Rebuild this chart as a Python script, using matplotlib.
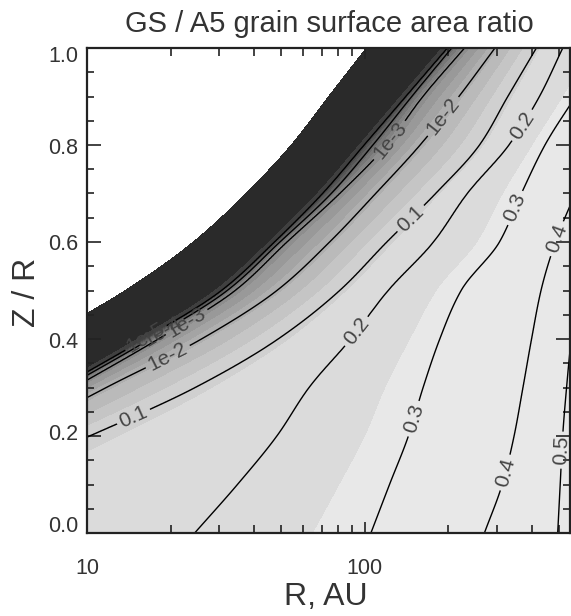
import numpy as np
import matplotlib
matplotlib.use("Agg")
import matplotlib.pyplot as plt
from matplotlib.ticker import FixedLocator, NullFormatter, FuncFormatter

plt.rcParams['font.family'] = ['Liberation Sans', 'DejaVu Sans']

# ---------------- data ----------------
# heights Z/R of the rows at which contour crossings were read
zr_rows = [0.0, 0.1, 0.2, 0.3, 0.4, 0.5, 0.6, 0.7, 0.8, 0.9, 1.0]
# log10(R/AU) where each contour crosses each row (values < 1 or > 2.74 lie outside the frame)
edge_logR = [-0.40, -0.07, 0.23, 0.53, 0.836, 1.138, 1.383, 1.573, 1.736, 1.871, 2.007]
c1e5_logR = [-0.006, 0.297, 0.60, 0.903, 1.207, 1.485, 1.676, 1.849, 1.999, 2.149, 2.299]
c1e4_logR = [0.014, 0.317, 0.62, 0.923, 1.227, 1.505, 1.695, 1.88, 2.03, 2.17, 2.314]
c1e3_logR = [0.044, 0.347, 0.65, 0.953, 1.256, 1.533, 1.72, 1.91, 2.08, 2.21, 2.36]
c1e2_logR = [0.136, 0.439, 0.742, 1.069, 1.412, 1.684, 1.874, 2.04, 2.20, 2.34, 2.47]
c01_logR = [0.18, 0.60, 1.008, 1.389, 1.688, 1.91, 2.08, 2.256, 2.414, 2.516, 2.619]
c02_logR = [1.388, 1.542, 1.684, 1.80, 1.95, 2.085, 2.248, 2.37, 2.52, 2.63, 2.714]
c03_logR = [2.023, 2.09, 2.158, 2.211, 2.271, 2.348, 2.486, 2.565, 2.65, 2.76, 2.87]
c04_logR = [2.432, 2.496, 2.539, 2.571, 2.602, 2.636, 2.688, 2.76, 2.84, 2.92, 3.0]
c05_logR = [2.696, 2.705, 2.714, 2.728, 2.745, 2.77, 2.80, 2.84, 2.88, 2.95, 3.1]

edge_value = 1e-8   # value assigned at the edge of the computed domain
line_values = [1e-5, 1e-4, 1e-3, 1e-2, 0.1, 0.2, 0.3, 0.4, 0.5]
line_labels = ['1e-5', '1e-4', '1e-3', '1e-2', '0.1', '0.2', '0.3', '0.4', '0.5']

# shading boundaries (log10 of ratio)
fill_bounds = [-5.2, -4.9, -4.6, -4.3, -4.0, -3.7, -3.4, -3.1, -2.8, -2.5,
               -2.2, -1.9, -1.6, -1.3, -0.95, -0.58]

R_min, R_max = 10.0, 550.0
y_ticks = [0.0, 0.2, 0.4, 0.6, 0.8, 1.0]
x_tick_labels = {10: '10', 100: '100'}
title = 'GS / A5 grain surface area ratio'
xlabel = 'R, AU'
ylabel = 'Z / R'


# ---------------- smooth (monotone cubic) interpolation between rows ----------------
def pchip(xk, yk, x):
    xk = np.asarray(xk, float)
    yk = np.asarray(yk, float)
    h = np.diff(xk)
    delta = np.diff(yk) / h
    n = len(xk)
    d = np.zeros(n)
    for k in range(1, n - 1):
        if delta[k - 1] * delta[k] <= 0:
            d[k] = 0.0
        else:
            w1 = 2 * h[k] + h[k - 1]
            w2 = h[k] + 2 * h[k - 1]
            d[k] = (w1 + w2) / (w1 / delta[k - 1] + w2 / delta[k])
    d[0] = delta[0]
    d[-1] = delta[-1]
    i = np.clip(np.searchsorted(xk, x) - 1, 0, n - 2)
    t = (x - xk[i]) / h[i]
    h00 = 2 * t**3 - 3 * t**2 + 1
    h10 = t**3 - 2 * t**2 + t
    h01 = -2 * t**3 + 3 * t**2
    h11 = t**3 - t**2
    return h00 * yk[i] + h10 * h[i] * d[i] + h01 * yk[i + 1] + h11 * h[i] * d[i + 1]


# ---------------- build the field from the read crossings ----------------
cross = [edge_logR, c1e5_logR, c1e4_logR, c1e3_logR, c1e2_logR,
         c01_logR, c02_logR, c03_logR, c04_logR, c05_logR]
lev_log = np.log10([edge_value] + line_values)

lx = np.linspace(np.log10(R_min), np.log10(R_max), 1000)
zy = np.linspace(0.0, 1.0, 800)
P = np.array([pchip(zr_rows, row, zy) for row in cross])  # (levels, rows)
F = np.empty((zy.size, lx.size))
for j in range(zy.size):
    pos = np.maximum.accumulate(P[:, j] + 1e-6 * np.arange(P.shape[0]))
    f = np.interp(lx, pos, lev_log)
    s_r = (lev_log[-1] - lev_log[-2]) / (pos[-1] - pos[-2])
    right = lx > pos[-1]
    f[right] = lev_log[-1] + (lx[right] - pos[-1]) * s_r
    s_l = (lev_log[1] - lev_log[0]) / (pos[1] - pos[0])
    left = lx < pos[0]
    f[left] = lev_log[0] - (pos[0] - lx[left]) * s_l
    F[j] = f
X, Z = np.meshgrid(10 ** lx, zy)

# ---------------- figure ----------------
W, H = 571, 616
fig = plt.figure(figsize=(W / 100, H / 100), dpi=100)
ax = fig.add_axes([87 / W, 1 - 533 / H, (570 - 87) / W, (533 - 48) / H])
ax.set_xscale('log')
ax.set_xlim(R_min, R_max)
ax.set_ylim(0, 1)

n_in = len(fill_bounds) - 1
grays = [str(round(v, 3)) for v in np.linspace(0.25, 0.86, n_in)]
ax.contourf(X, Z, F, levels=[np.log10(edge_value)] + fill_bounds,
            colors=['white', '#2a2a2a'] + grays + ['#e8e8e8'], extend='both')

label_spots = {
    '1e-5': [(16.0, 0.41)],
    '1e-4': [(18.0, 0.43)],
    '1e-3': [(23.0, 0.43), (123, 0.81)],
    '1e-2': [(19.5, 0.365), (189, 0.862)],
    '0.1': [(14.7, 0.24), (145, 0.652)],
    '0.2': [(92, 0.419), (361, 0.845)],
    '0.3': [(156, 0.233), (331, 0.676)],
    '0.4': [(324, 0.124), (474, 0.61)],
    '0.5': [(509, 0.171)],
}
for val, lab in zip(line_values, line_labels):
    cs = ax.contour(X, Z, F, levels=[np.log10(val)], colors='black',
                    linewidths=1.0, linestyles='solid')
    for spot in label_spots[lab]:
        try:
            ax.clabel(cs, manual=[spot], inline=True, fmt={cs.levels[0]: lab},
                      fontsize=15, colors='#444444', inline_spacing=4)
        except Exception:
            pass

ax.set_xlim(R_min, R_max)
ax.set_ylim(0, 1)

ax.xaxis.set_major_locator(FixedLocator(list(x_tick_labels.keys())))
ax.xaxis.set_minor_locator(FixedLocator([20, 30, 40, 50, 60, 70, 80, 90,
                                         200, 300, 400, 500]))
ax.xaxis.set_major_formatter(FuncFormatter(lambda v, p: x_tick_labels.get(int(round(v)), '')))
ax.xaxis.set_minor_formatter(NullFormatter())
ax.yaxis.set_major_locator(FixedLocator(y_ticks))
ax.yaxis.set_minor_locator(FixedLocator([0.05 * i for i in range(21)]))
ax.yaxis.set_major_formatter(NullFormatter())

tc = '#333333'
ax.tick_params(axis='both', which='both', direction='in', top=True, right=True,
               color='#222222', width=1.2, labelcolor=tc, labelsize=15.5)
ax.tick_params(axis='x', which='major', length=8, pad=18)
ax.tick_params(axis='x', which='minor', length=6)
ax.tick_params(axis='y', which='major', length=10)
ax.tick_params(axis='y', which='minor', length=5)
for s in ax.spines.values():
    s.set_linewidth(1.6)
    s.set_color('#222222')

# y tick labels, nudged like the original (top label sits below the frame, bottom one above)
y_nudge = {0.0: 7, 0.2: 1, 0.4: -3, 0.6: -3, 0.8: -3, 1.0: -9}
for v in y_ticks:
    ax.annotate(f'{v:.1f}', xy=(0, v), xycoords=('axes fraction', 'data'),
                xytext=(-9, y_nudge[v]), textcoords='offset pixels',
                ha='right', va='center', fontsize=15.5, color=tc,
                annotation_clip=False)

fig.text(329 / W, 1 - 32 / H, title, ha='center', va='baseline', fontsize=21, color=tc)
fig.text(326 / W, 1 - 605 / H, xlabel, ha='center', va='baseline', fontsize=23, color=tc)
fig.text(27 / W, 1 - 292 / H, ylabel, ha='center', va='center', rotation=90,
         fontsize=23, color=tc)

fig.savefig('out.png', dpi=100)
